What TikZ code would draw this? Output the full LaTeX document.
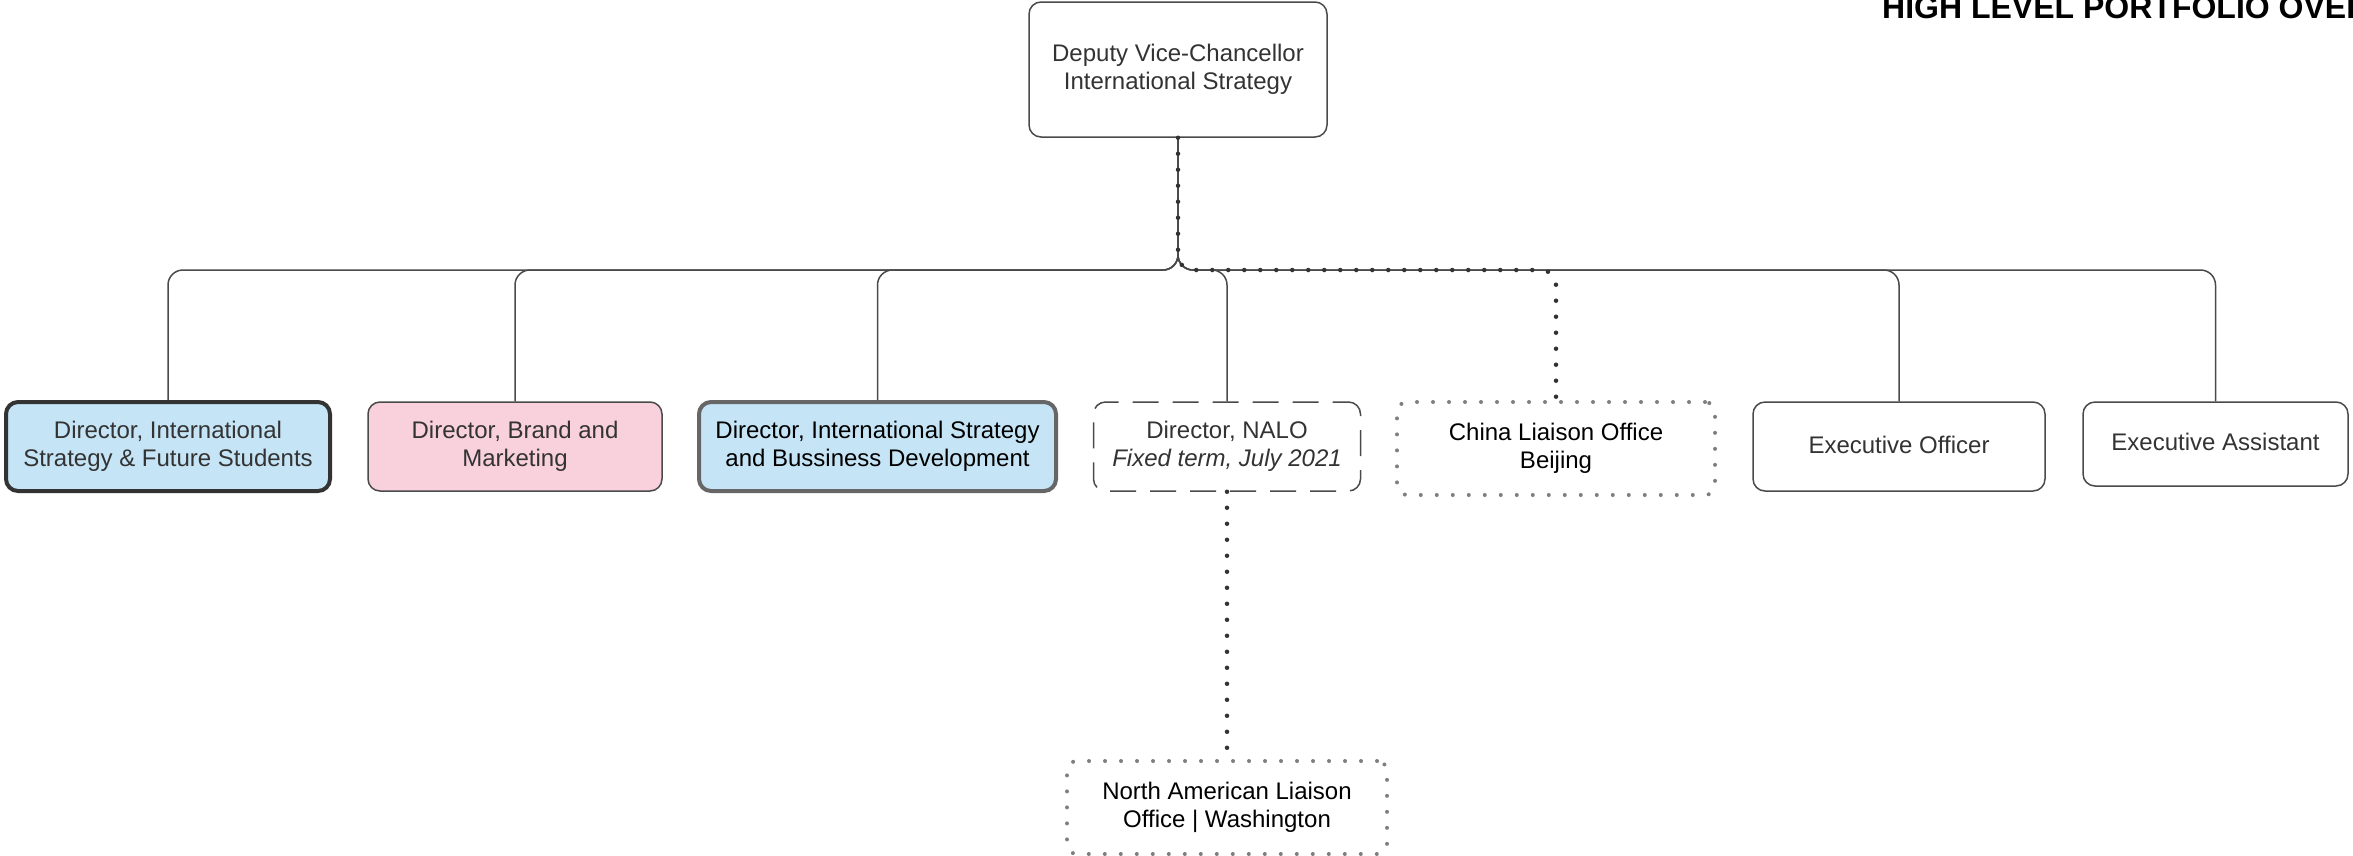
\documentclass[tikz,border=0pt]{standalone}
\usepackage{fontspec}
\setmainfont{Liberation Sans}
\definecolor{bluefill}{HTML}{C5E4F5}
\definecolor{pinkfill}{HTML}{F8D1DD}
\definecolor{txt}{HTML}{333333}
\definecolor{edge}{HTML}{4A4A4A}
\definecolor{dotgray}{HTML}{7F7F7F}
\tikzset{
  box/.style={draw=edge, line width=1.5pt, rounded corners=12pt, align=center,
    inner sep=0pt, text=txt, fill=white},
  thickdark/.style={draw=txt, line width=4pt},
  thickgray/.style={draw=black!60, line width=4pt},
  dashbox/.style={draw=edge, line width=1.5pt, dash pattern=on 26pt off 14pt, dash phase=10pt},
  dotbox/.style={draw=dotgray, line width=4pt, line cap=round, dash pattern=on 0pt off 16pt},
  conn/.style={draw=edge, line width=1.5pt, rounded corners=15pt},
  dotline/.style={draw=txt, line width=4.5pt, line cap=round, dash pattern=on 0pt off 16pt, rounded corners=15pt},
}
\begin{document}
\begin{tikzpicture}[x=1pt,y=-1pt, font=\fontsize{24}{28.5}\selectfont]
\useasboundingbox (0,0) rectangle (2353,855);
\clip (0,0) rectangle (2353,855);

\node[anchor=base west, font=\fontsize{32}{36}\selectfont\bfseries, text=black, inner sep=0pt] (title) at (1882,18) {HIGH LEVEL PORTFOLIO OVERVIEW};

\coordinate (busy) at (0,270);

\node[box, minimum width=298pt, minimum height=135pt] (top) at (1178,69.5) {Deputy Vice-Chancellor\\International Strategy};

\node[box, thickdark, fill=bluefill, minimum width=324pt, minimum height=89pt] (n1) at (168,446.5) {Director, International\\Strategy \& Future Students};
\node[box, fill=pinkfill, minimum width=294pt, minimum height=89pt] (n2) at (515,446.5) {Director, Brand and\\Marketing};
\node[box, thickgray, fill=bluefill, text=black, minimum width=357pt, minimum height=89pt] (n3) at (877.5,446.5) {Director, International Strategy\\and Bussiness Development};
\node[box, dashbox, minimum width=267pt, minimum height=89pt] (n4) at (1227,446.5) {Director, NALO\\\textit{Fixed term, July 2021}};
\node[box, dotbox, text=black, rounded corners=10pt, minimum width=318pt, minimum height=93pt] (n5) at (1556,448.5) {China Liaison Office\\Beijing};
\node[box, minimum width=292pt, minimum height=89pt, text depth=4pt] (n6) at (1899,446.5) {Executive Officer};
\node[box, minimum width=265pt, minimum height=84pt, text depth=4pt] (n7) at (2215.5,444) {Executive Assistant};
\node[box, dotbox, text=black, rounded corners=10pt, minimum width=320pt, minimum height=93pt] (n8) at (1227,807.5) {North American Liaison\\Office | Washington};

\foreach \c in {n1,n2,n3,n4,n6,n7}{
  \draw[conn] (top.south) -- (top.south |- busy) -- (\c.north |- busy) -- (\c.north);
}
\draw[dotline] (top.south) -- (top.south |- busy) -- (n5.north |- busy) -- (n5.north);
\draw[dotline] (n4.south) -- (n8.north);
\end{tikzpicture}
\end{document}
